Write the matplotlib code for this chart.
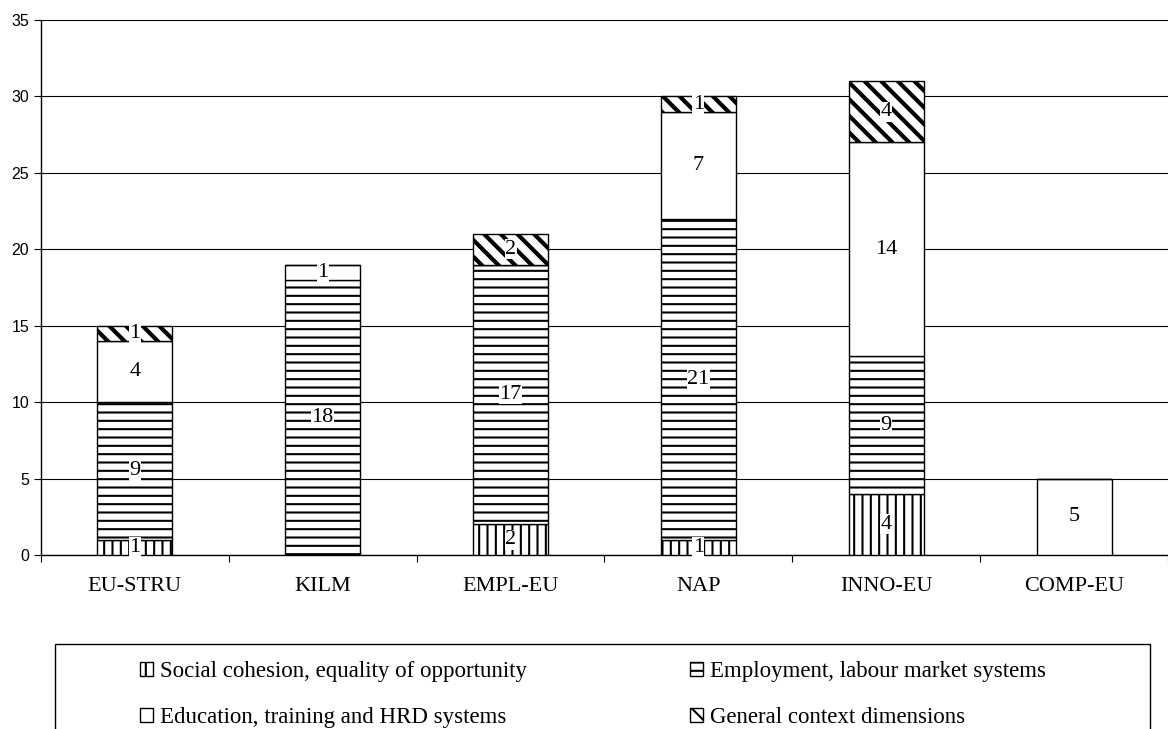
import matplotlib
matplotlib.use("Agg")
import matplotlib.pyplot as plt
from matplotlib.patches import Rectangle
import numpy as np

categories = ["EU-STRU", "KILM", "EMPL-EU", "NAP", "INNO-EU", "COMP-EU"]
social = [1, 0, 2, 1, 4, 0]
employment = [9, 18, 17, 21, 9, 0]
education = [4, 1, 0, 7, 14, 5]
general = [1, 0, 2, 1, 4, 0]

series = [
    ("Social cohesion, equality of opportunity", social, "||"),
    ("Employment, labour market systems", employment, "--"),
    ("Education, training and HRD systems", education, ""),
    ("General context dimensions", general, "\\\\"),
]

plt.rcParams["hatch.linewidth"] = 1.5
serif = ["Liberation Serif", "DejaVu Serif"]

fig = plt.figure(figsize=(11.68, 7.29), dpi=100)
ax = fig.add_axes([0.035, 0.2387, 0.965, 0.7339])

x = np.arange(len(categories))
bottom = np.zeros(len(categories))
handles = []
for name, vals, hatch in series:
    vals = np.array(vals, dtype=float)
    bars = ax.bar(x, vals, width=0.4, bottom=bottom, color="white",
                  edgecolor="black", linewidth=1.0, hatch=hatch, label=name,
                  zorder=3)
    if hatch == "\\\\":
        for b in bars:
            try:
                b.set_hatch_linewidth(3.0)
            except AttributeError:
                pass
    handles.append(bars)
    for xi, v, b0 in zip(x, vals, bottom):
        if v > 0:
            ax.text(xi, b0 + v / 2, f"{int(v)}", ha="center", va="center",
                    fontsize=16, family=serif, zorder=5,
                    bbox=dict(boxstyle="square,pad=0.02", fc="white", ec="none"))
    bottom += vals

ax.set_xlim(-0.5, len(categories) - 0.5)
ax.set_ylim(0, 35)
ax.set_yticks(range(0, 36, 5))
ax.yaxis.grid(True, color="black", linewidth=0.8, zorder=0)
ax.set_axisbelow(True)
for s in ["top", "right"]:
    ax.spines[s].set_visible(False)
ax.spines["left"].set_linewidth(1.0)
ax.spines["bottom"].set_linewidth(1.0)
ax.tick_params(axis="y", direction="out", length=5, width=0.8, labelsize=11.5)
for lab in ax.get_yticklabels():
    lab.set_family(["Liberation Sans", "DejaVu Sans"])
ax.set_xticks(x)
ax.set_xticklabels(categories, family=serif, fontsize=16)
ax.tick_params(axis="x", which="major", length=0, pad=16)
ax.set_xticks(np.arange(-0.5, len(categories), 1.0), minor=True)
ax.tick_params(axis="x", which="minor", length=5, width=0.8, direction="out")

# legend frame extends past the lower figure edge
fig.patches.append(Rectangle((0.047, -0.05), 0.938, 0.1666,
                             transform=fig.transFigure, fill=False,
                             edgecolor="black", linewidth=1.0))
# column-wise fill: social, education | employment, general
order = [0, 2, 1, 3]
leg = fig.legend(handles=[handles[i] for i in order], loc="upper left", ncol=2,
                 bbox_to_anchor=(0.1199, 0.0926), frameon=False,
                 borderpad=0, borderaxespad=0,
                 prop={"family": serif, "size": 16.5},
                 handlelength=0.55, handleheight=0.55, handletextpad=0.3,
                 columnspacing=7.14, labelspacing=1.07)
fig.savefig("out.png", dpi=100)
